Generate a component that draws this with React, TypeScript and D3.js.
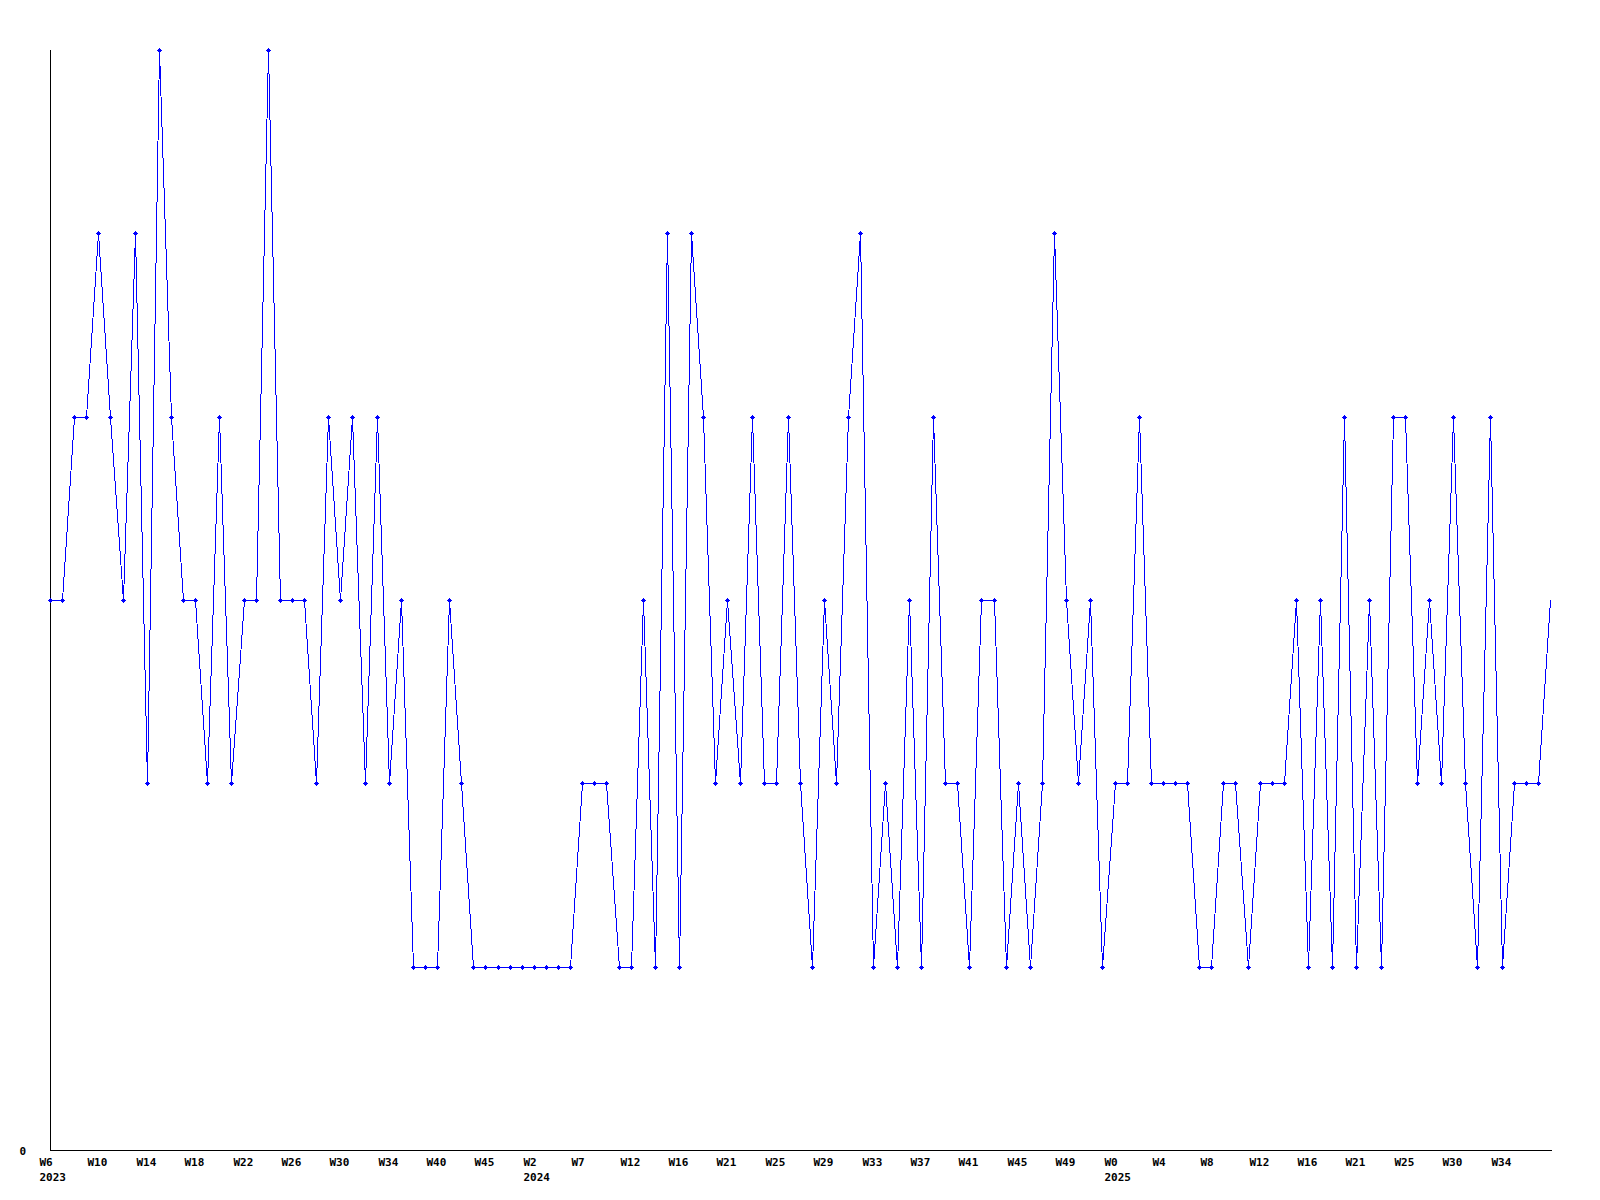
import React from "react";
import * as d3 from "d3";

// Weekly values (one per point, left to right)
const values: number[] = [
  3, 3, 4, 4, 5, 4, 3, 5, 2, 6,
  4, 3, 3, 2, 4, 2, 3, 3, 6, 3,
  3, 3, 2, 4, 3, 4, 2, 4, 2, 3,
  1, 1, 1, 3, 2, 1, 1, 1, 1, 1,
  1, 1, 1, 1, 2, 2, 2, 1, 1, 3,
  1, 5, 1, 5, 4, 2, 3, 2, 4, 2,
  2, 4, 2, 1, 3, 2, 4, 5, 1, 2,
  1, 3, 1, 4, 2, 2, 1, 3, 3, 1,
  2, 1, 2, 5, 3, 2, 3, 1, 2, 2,
  4, 2, 2, 2, 2, 1, 1, 2, 2, 1,
  2, 2, 2, 3, 1, 3, 1, 4, 1, 3,
  1, 4, 4, 2, 3, 2, 4, 2, 1, 4,
  1, 2, 2, 2, 3,
];

// Tick labels, one every 4 points
const tickWeeks: string[] = [
  "W6", "W10", "W14", "W18", "W22", "W26", "W30", "W34", "W40", "W45",
  "W2", "W7", "W12", "W16", "W21", "W25", "W29", "W33", "W37", "W41",
  "W45", "W49", "W0", "W4", "W8", "W12", "W16", "W21", "W25", "W30", "W34",
];
const tickYears: string[] = [
  "2023", "", "", "", "", "", "", "", "", "",
  "2024", "", "", "", "", "", "", "", "", "",
  "", "", "2025", "", "", "", "", "", "", "", "",
];
const tickStep = 4;
const yTicks: number[] = [0];

const W = 1600;
const H = 1200;
const left = 50;
const right = 1550;
const top = 50;
const bottom = 1150;
const font = "'DejaVu Sans Mono', 'Liberation Mono', monospace";

export default function App() {
  const idx = values.map((_, i) => i);
  const x = d3.scalePoint<number>().domain(idx).range([left, right]).padding(0);
  const yMax = d3.max(values) as number;
  const y = d3.scaleLinear().domain([0, yMax]).range([bottom, top]);

  const px = (i: number) => Math.round(x(i) as number);
  const py = (v: number) => Math.round(y(v));

  const line = d3
    .line<number>()
    .x((v, i) => px(i) + 0.5)
    .y((v) => py(v) + 0.5);

  return (
    <svg
      width={W}
      height={H}
      style={{ position: "absolute", left: 0, top: 0, background: "#fff" }}
    >
      <rect x={0} y={0} width={W} height={H} fill="#fff" />
      {/* axes */}
      <line
        x1={left + 0.5}
        y1={top}
        x2={left + 0.5}
        y2={bottom + 1}
        stroke="#000"
        strokeWidth={1}
        shapeRendering="crispEdges"
      />
      <line
        x1={left}
        y1={bottom + 0.5}
        x2={right + 2}
        y2={bottom + 0.5}
        stroke="#000"
        strokeWidth={1}
        shapeRendering="crispEdges"
      />
      {yTicks.map((t) => (
        <text
          key={"y" + t}
          x={26}
          y={py(t) + 4.5}
          textAnchor="end"
          fontFamily={font}
          fontWeight="bold"
          fontSize={11}
          fill="#000"
        >
          {t}
        </text>
      ))}
      {tickWeeks.map((lab, k) => {
        const i = k * tickStep;
        const tx = px(i) - 10.5;
        return (
          <g key={"t" + k}>
            <text
              x={tx}
              y={1166}
              fontFamily={font}
              fontWeight="bold"
              fontSize={11}
              fill="#000"
            >
              {lab}
            </text>
            {tickYears[k] ? (
              <text
                x={tx}
                y={1181}
                fontFamily={font}
                fontWeight="bold"
                fontSize={11}
                fill="#000"
              >
                {tickYears[k]}
              </text>
            ) : null}
          </g>
        );
      })}
      {/* series */}
      <path
        d={line(values) || ""}
        fill="none"
        stroke="#0000ff"
        strokeWidth={1}
        shapeRendering="crispEdges"
      />
      {values.slice(0, values.length - 1).map((v, i) => {
        const cx = px(i);
        const cy = py(v);
        return (
          <g key={"m" + i} fill="#0000ff" shapeRendering="crispEdges">
            <rect x={cx - 2} y={cy} width={5} height={1} />
            <rect x={cx} y={cy - 2} width={1} height={5} />
            <rect x={cx - 1} y={cy - 1} width={3} height={3} />
          </g>
        );
      })}
    </svg>
  );
}
